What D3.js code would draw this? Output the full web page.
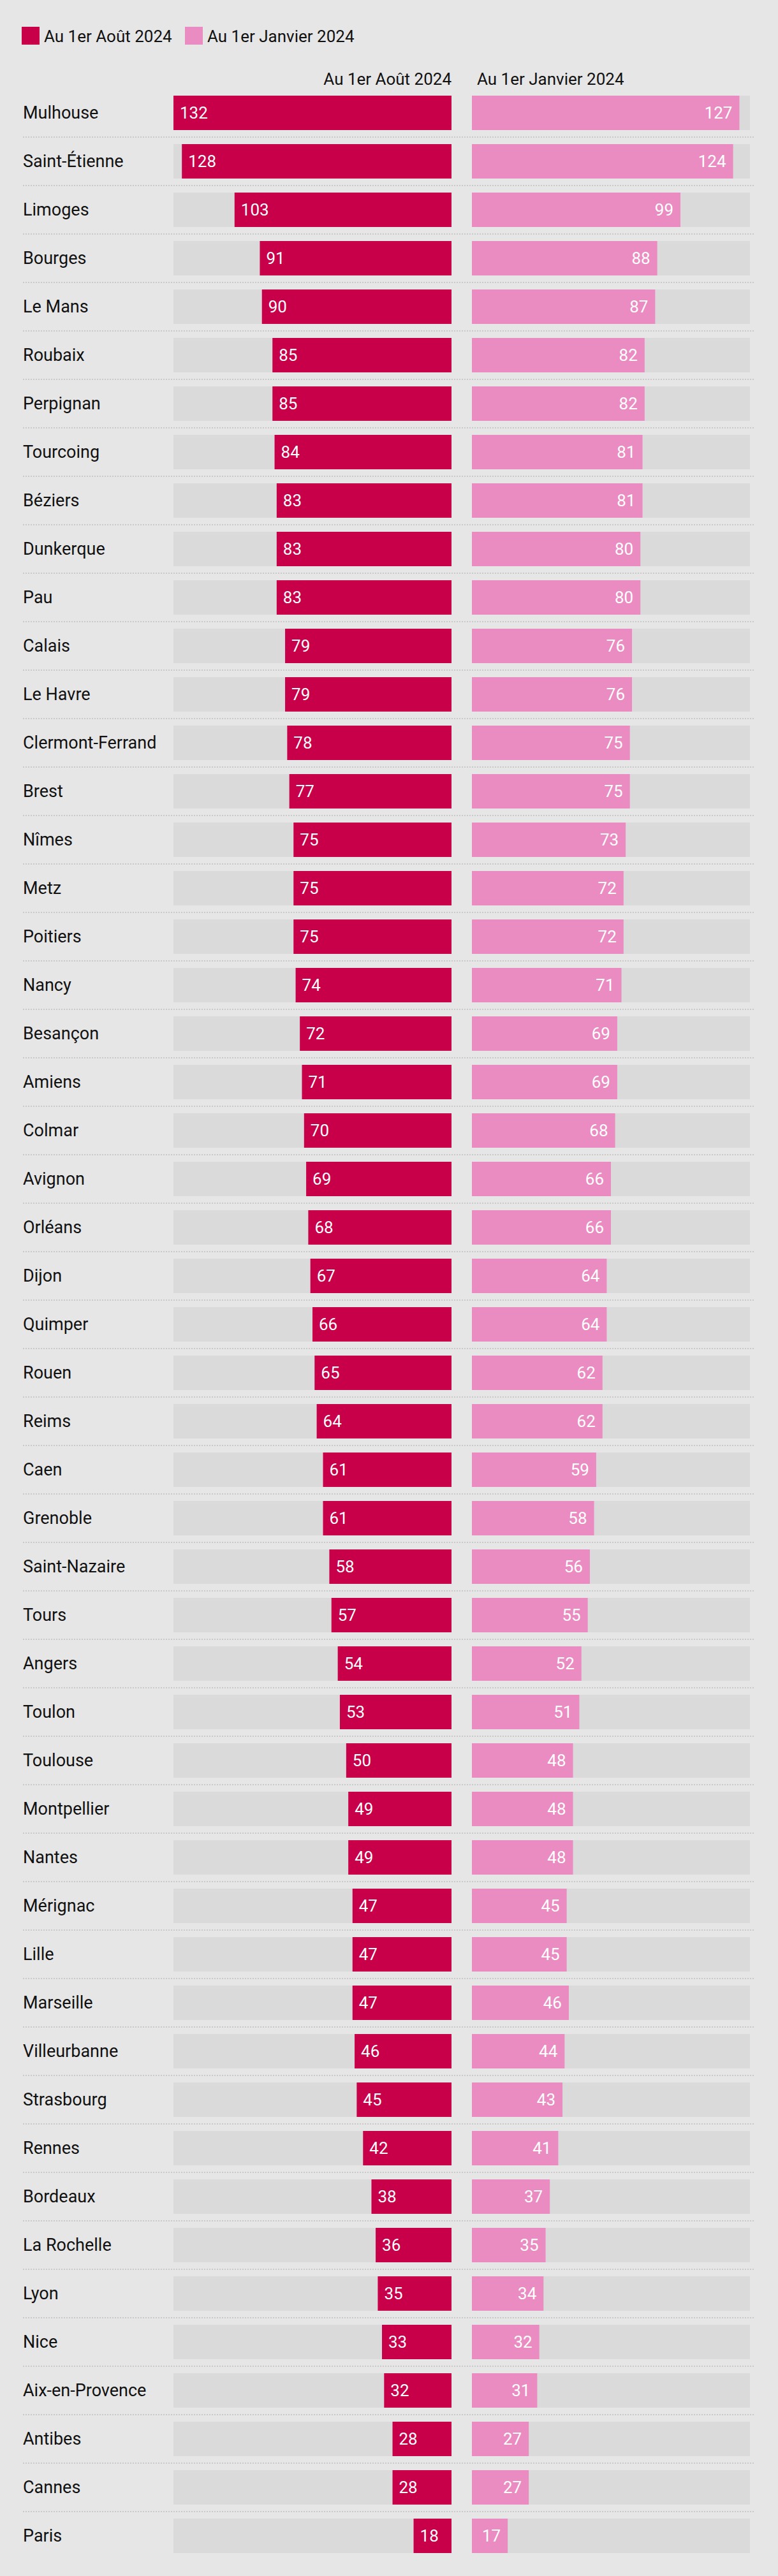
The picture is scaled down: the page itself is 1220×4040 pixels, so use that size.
<!DOCTYPE html>
<html><head><meta charset="utf-8">
<script src="https://cdn.jsdelivr.net/npm/d3@7"></script>
<style>html,body{margin:0;padding:0;background:#e6e6e6;}svg{display:block;font-family:Roboto,"Noto Sans",sans-serif;}</style>
</head><body>
<script>
const cities = ["Mulhouse","Saint-Étienne","Limoges","Bourges","Le Mans","Roubaix","Perpignan","Tourcoing","Béziers","Dunkerque","Pau","Calais","Le Havre","Clermont-Ferrand","Brest","Nîmes","Metz","Poitiers","Nancy","Besançon","Amiens","Colmar","Avignon","Orléans","Dijon","Quimper","Rouen","Reims","Caen","Grenoble","Saint-Nazaire","Tours","Angers","Toulon","Toulouse","Montpellier","Nantes","Mérignac","Lille","Marseille","Villeurbanne","Strasbourg","Rennes","Bordeaux","La Rochelle","Lyon","Nice","Aix-en-Provence","Antibes","Cannes","Paris"];
const aout2024 = [132,128,103,91,90,85,85,84,83,83,83,79,79,78,77,75,75,75,74,72,71,70,69,68,67,66,65,64,61,61,58,57,54,53,50,49,49,47,47,47,46,45,42,38,36,35,33,32,28,28,18];
const janvier2024 = [127,124,99,88,87,82,82,81,81,80,80,76,76,75,75,73,72,72,71,69,69,68,66,66,64,64,62,62,59,58,56,55,52,51,48,48,48,45,45,46,44,43,41,37,35,34,32,31,27,27,17];
const seriesNames = ["Au 1er Août 2024","Au 1er Janvier 2024"];
const colors = ["#c8004a","#ea8cc1"];

const W = 1220, H = 4040;
const svg = d3.select("body").append("svg").attr("width",W).attr("height",H);
svg.append("rect").attr("width",W).attr("height",H).attr("fill","#e6e6e6");

const data = cities.map((c,i)=>({city:c,a:aout2024[i],j:janvier2024[i]}));
const y = d3.scaleBand().domain(cities).range([139,139+51*76]).paddingInner(22/76).paddingOuter(11/76);
const x = d3.scaleLinear().domain([0,132]).range([0,436]);
const leftEnd = 708, rightStart = 740;

// legend
const lg = svg.append("g");
let lx = 34;
seriesNames.forEach((n,i)=>{
  const g = lg.append("g").attr("transform",`translate(${lx},42)`);
  g.append("rect").attr("width",28).attr("height",28).attr("fill",colors[i]);
  const t = g.append("text").attr("x",35).attr("y",24).attr("font-size",26).attr("fill","#111").text(n);
  lx = 290;
});

// headers
svg.append("text").attr("x",leftEnd).attr("y",133).attr("text-anchor","end").attr("font-size",26).attr("fill","#111").text(seriesNames[0]);
svg.append("text").attr("x",rightStart+8).attr("y",133).attr("font-size",26).attr("fill","#111").text(seriesNames[1]);

// separators
svg.append("g").selectAll("line").data(cities.slice(0,-1)).join("line")
  .attr("x1",36).attr("x2",1184)
  .attr("y1",d=>y(d)+y.bandwidth()+11).attr("y2",d=>y(d)+y.bandwidth()+11)
  .attr("stroke","#c9c9c9").attr("stroke-width",2).attr("stroke-dasharray","2,2");

const rows = svg.append("g").selectAll("g").data(data).join("g")
  .attr("transform",d=>`translate(0,${y(d.city)})`);
const bh = y.bandwidth();

rows.append("text").attr("x",36).attr("y",bh/2).attr("dy","0.35em").attr("font-size",27).attr("fill","#111").text(d=>d.city);

// tracks
rows.append("rect").attr("x",leftEnd-x(132)).attr("width",x(132)).attr("height",bh).attr("fill","#dadada");
rows.append("rect").attr("x",rightStart).attr("width",x(132)).attr("height",bh).attr("fill","#dadada");
// bars
rows.append("rect").attr("x",d=>leftEnd-x(d.a)).attr("width",d=>x(d.a)).attr("height",bh).attr("fill",colors[0]);
rows.append("rect").attr("x",rightStart).attr("width",d=>x(d.j)).attr("height",bh).attr("fill",colors[1]);
// labels
rows.append("text").attr("x",d=>leftEnd-x(d.a)+10).attr("y",bh/2).attr("dy","0.35em").attr("font-size",26).attr("fill","#fff").text(d=>d.a);
rows.append("text").attr("x",d=>rightStart+x(d.j)-11).attr("y",bh/2).attr("dy","0.35em").attr("text-anchor","end").attr("font-size",26).attr("fill","#fff").text(d=>d.j);
</script>
</body></html>
